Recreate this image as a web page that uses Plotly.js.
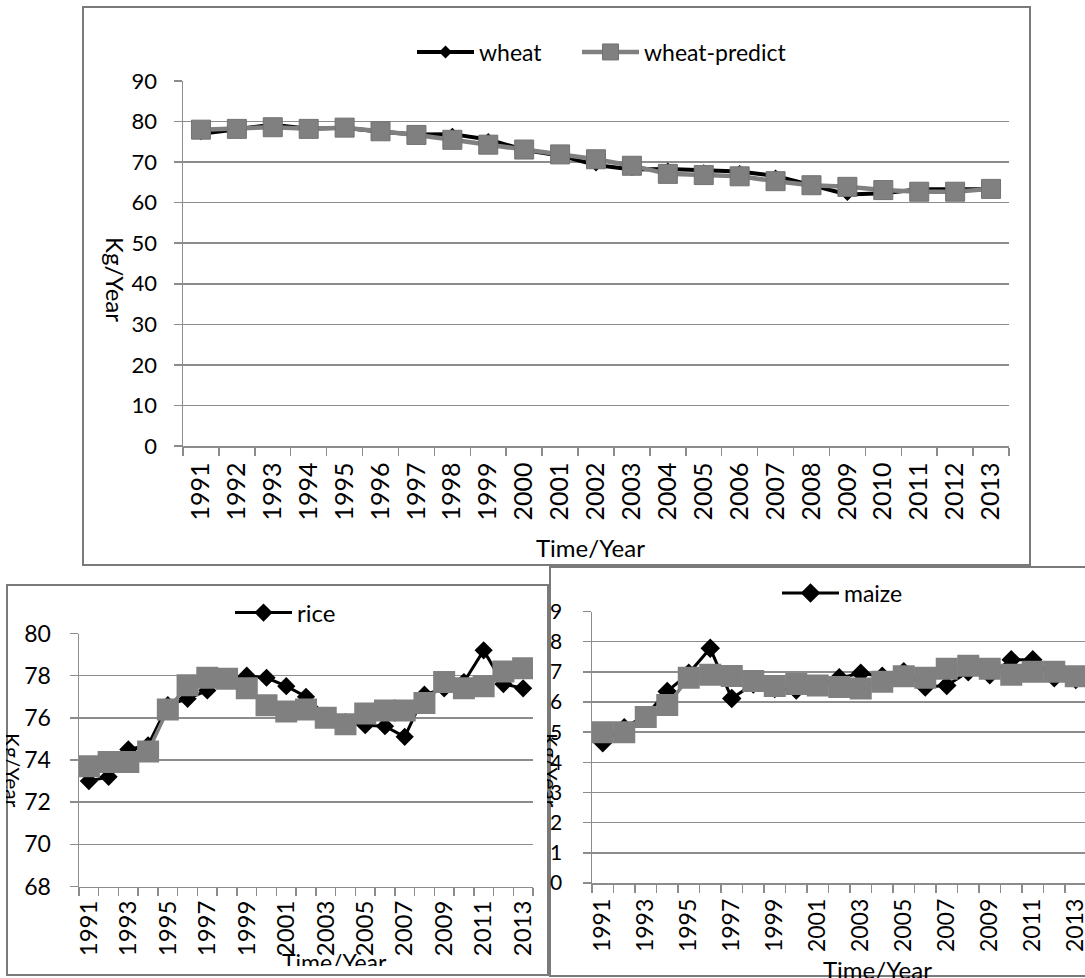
<!DOCTYPE html>
<html>
<head>
<meta charset="utf-8">
<script src="https://cdn.plot.ly/plotly-3.0.1.min.js"></script>
<style>
html,body{margin:0;padding:0;background:#fff;}
#chart{width:1085px;height:978px;}
</style>
</head>
<body>
<div id="chart"></div>
<script>
// ---------------- data ----------------
var years = [1991,1992,1993,1994,1995,1996,1997,1998,1999,2000,2001,2002,2003,2004,2005,2006,2007,2008,2009,2010,2011,2012,2013];
var yearLabels = ['1991','1992','1993','1994','1995','1996','1997','1998','1999','2000','2001','2002','2003','2004','2005','2006','2007','2008','2009','2010','2011','2012','2013'];
var oddYears = [1991,1993,1995,1997,1999,2001,2003,2005,2007,2009,2011,2013];
var oddYearLabels = ['1991','1993','1995','1997','1999','2001','2003','2005','2007','2009','2011','2013'];
var yearBoundaries = [1990.5,1991.5,1992.5,1993.5,1994.5,1995.5,1996.5,1997.5,1998.5,1999.5,2000.5,2001.5,2002.5,2003.5,2004.5,2005.5,2006.5,2007.5,2008.5,2009.5,2010.5,2011.5,2012.5,2013.5];

var wheat        = [77.0,78.0,79.2,78.2,78.5,77.5,76.8,76.9,75.6,73.0,71.6,69.3,68.2,68.3,67.9,67.7,66.6,64.3,62.0,62.3,63.3,63.3,63.3];
var wheatPredict = [78.0,78.2,78.6,78.2,78.5,77.6,76.7,75.5,74.3,73.1,71.9,70.7,69.1,67.1,66.8,66.5,65.3,64.3,63.9,63.1,62.7,62.7,63.4];

var rice         = [73.0,73.2,74.5,74.7,76.6,76.9,77.3,77.9,78.0,77.9,77.5,77.0,76.1,75.8,75.65,75.6,75.1,77.1,77.4,77.7,79.2,77.6,77.4];
var ricePredict  = [73.7,73.9,73.9,74.4,76.4,77.55,77.9,77.85,77.4,76.6,76.3,76.4,76.0,75.7,76.2,76.35,76.35,76.7,77.7,77.4,77.5,78.2,78.35];

var maize        = [4.65,5.15,5.55,6.35,6.95,7.78,6.12,6.6,6.45,6.4,6.55,6.8,6.95,6.85,7.0,6.5,6.55,7.0,6.9,7.4,7.4,6.8,6.75];
var maizePredict = [5.0,5.0,5.5,5.9,6.8,6.9,6.86,6.7,6.53,6.6,6.55,6.5,6.45,6.67,6.85,6.8,7.1,7.2,7.1,6.9,7.0,7.0,6.85];

// ---------------- layout helpers ----------------
var W = 1085, H = 978;
function px(x){ return x / W; }
function py(y){ return 1 - y / H; }

var FONT = 'Lato, "Liberation Sans", Arial, sans-serif';
var GRID = '#8c8c8c';
var BLACK = '#000000';
var GRAY = '#808080';

function xAxis(domain, range, tv, tt, fsize, anchor, standoff){
  return {
    domain: domain, range: range, anchor: anchor,
    tickmode: 'array', tickvals: tv, ticktext: tt,
    ticks: '', tickangle: -90, ticklabelstandoff: standoff, ticklabeloverflow: 'allow',
    tickfont: {family: FONT, size: fsize, color: '#000'},
    showgrid: false, zeroline: false,
    showline: true, linecolor: GRID, linewidth: 1.5,
    minor: {tickmode: 'array', tickvals: yearBoundaries, ticks: 'outside', ticklen: 8, tickcolor: GRID, tickwidth: 1.5, showgrid: false},
    fixedrange: true
  };
}
function yAxis(domain, range, dtick, fsize, anchor, standoff){
  return {
    domain: domain, range: range, dtick: dtick, anchor: anchor,
    tickmode: 'linear', tick0: range[0],
    ticks: 'outside', ticklen: 8, tickcolor: GRID, tickwidth: 1.5,
    ticklabelstandoff: standoff,
    tickfont: {family: FONT, size: fsize, color: '#000'},
    showgrid: true, gridcolor: GRID, gridwidth: 1.5,
    zeroline: false, showline: true, linecolor: GRID, linewidth: 1.5,
    fixedrange: true
  };
}
function legendAt(x, y, size){
  return {orientation: 'h', x: px(x), y: py(y), xanchor: 'left', yanchor: 'middle', itemwidth: 57,
          bgcolor: 'rgba(0,0,0,0)', font: {family: FONT, size: size, color: '#000'}};
}

var traces = [
  {x: years, y: wheat, name: 'wheat', type: 'scatter', mode: 'lines+markers',
   line: {color: BLACK, width: 4}, marker: {symbol: 'diamond', size: 10, color: BLACK},
   xaxis: 'x', yaxis: 'y', legend: 'legend'},
  {x: years, y: wheatPredict, name: 'wheat-predict', type: 'scatter', mode: 'lines+markers',
   line: {color: GRAY, width: 4.5}, marker: {symbol: 'square', size: 19, color: GRAY, line: {color: '#727272', width: 1}},
   xaxis: 'x', yaxis: 'y', legend: 'legend4'},

  {x: years, y: rice, name: 'rice', type: 'scatter', mode: 'lines+markers',
   line: {color: BLACK, width: 3}, marker: {symbol: 'diamond', size: 14, color: BLACK},
   xaxis: 'x2', yaxis: 'y2', legend: 'legend2'},
  {x: years, y: ricePredict, name: 'rice-predict', type: 'scatter', mode: 'lines+markers', showlegend: false,
   line: {color: GRAY, width: 3.5}, marker: {symbol: 'square', size: 22, color: GRAY},
   xaxis: 'x2', yaxis: 'y2'},

  {x: years, y: maize, name: 'maize', type: 'scatter', mode: 'lines+markers',
   line: {color: BLACK, width: 3}, marker: {symbol: 'diamond', size: 15, color: BLACK},
   xaxis: 'x3', yaxis: 'y3', legend: 'legend3'},
  {x: years, y: maizePredict, name: 'maize-predict', type: 'scatter', mode: 'lines+markers', showlegend: false,
   line: {color: GRAY, width: 3.5}, marker: {symbol: 'square', size: 22, color: GRAY},
   xaxis: 'x3', yaxis: 'y3'}
];

function ann(text, x, y, size, angle){
  return {text: text, x: px(x), y: py(y), xref: 'paper', yref: 'paper', showarrow: false,
          textangle: angle || 0, xanchor: 'center', yanchor: 'middle',
          font: {family: FONT, size: size, color: '#000'}};
}
function cover(x0, y0, x1, y1){
  return {text: ' ', x: px((x0 + x1) / 2), y: py((y0 + y1) / 2), xref: 'paper', yref: 'paper',
          showarrow: false, xanchor: 'center', yanchor: 'middle',
          width: x1 - x0, height: y1 - y0, bgcolor: '#ffffff', borderpad: 0, borderwidth: 0,
          font: {size: 2}};
}
function box(x0, y0, x1, y1){
  return {type: 'rect', xref: 'paper', yref: 'paper', x0: px(x0), x1: px(x1), y0: py(y0), y1: py(y1),
          line: {color: '#7a7a7a', width: 2}, fillcolor: 'rgba(0,0,0,0)', layer: 'below'};
}

var layout = {
  width: W, height: H,
  margin: {l: 0, r: 0, t: 0, b: 0},
  paper_bgcolor: '#ffffff', plot_bgcolor: 'rgba(0,0,0,0)',
  font: {family: FONT, color: '#000'},
  xaxis:  xAxis([px(183), px(1009)], [1990.5, 2013.5], years, yearLabels, 25, 'y', 5),
  yaxis:  yAxis([py(446), py(81)], [0, 90], 10, 22, 'x', 12),
  xaxis2: xAxis([px(79), px(533)], [1990.5, 2013.5], oddYears, oddYearLabels, 24, 'y2', 3),
  yaxis2: yAxis([py(886.5), py(633.5)], [68, 80], 2, 23, 'x2', 14),
  xaxis3: xAxis([px(592), 1], [1990.5, 1990.5 + (1085 - 592) / 21.5], oddYears, oddYearLabels, 23, 'y3', 5),
  yaxis3: yAxis([py(883), py(611.5)], [0, 9], 1, 21, 'x3', 16),
  legend:  legendAt(412, 52, 23),
  legend4: legendAt(577, 52, 23),
  legend2: legendAt(230, 613, 24),
  legend3: legendAt(777, 593, 23),
  shapes: [
    box(83, 7, 1030, 565),
    box(7, 585, 548, 975),
    box(550, 567, 1100, 976)
  ],
  annotations: [
    ann('Kg/Year', 116, 279, 24, 90),
    ann('Time/Year', 590, 547, 24, 0),
    ann('Kg/Year', 13, 770, 21, 90),
    cover(0, 700, 6, 850),
    ann('Time/Year', 334, 962, 23, 0),
    cover(260, 966, 410, 974),
    ann('Kg/Year', 551, 770, 21, 90),
    cover(537, 700, 547, 850),
    ann('Time/Year', 877, 969, 24, 0)
  ]
};

Plotly.newPlot('chart', traces, layout, {displayModeBar: false, staticPlot: true});
</script>
</body>
</html>
